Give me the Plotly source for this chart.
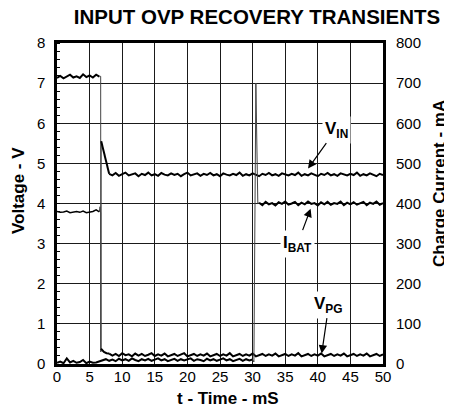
import plotly.graph_objects as go

# ---------------- data ----------------
# sample grids (ms)
t_head = [i * 0.5 for i in range(14)]              # 0 .. 6.5
t_tail = [8.0 + i * 0.5 for i in range(85)]        # 8 .. 50
t_ibat_head = [i * 0.5 for i in range(61)]         # 0 .. 30
t_ibat_tail = [31.0 + i * 0.5 for i in range(39)]  # 31 .. 50

# V_IN (V)
vin_head = [7.13, 7.18, 7.12, 7.16, 7.21, 7.14, 7.17, 7.13, 7.22, 7.15, 7.19, 7.14, 7.21, 7.16]
vin_drop_t = [6.5, 6.7, 6.72, 6.78]
vin_drop_v = [7.16, 7.17, 0.30, 5.55]
vin_ramp_t = [6.78, 7.9, 8.0]
vin_ramp_v = [5.55, 4.76, 4.74]
vin_tail = [4.74, 4.70, 4.76, 4.69, 4.73, 4.77, 4.70, 4.72, 4.75, 4.68, 4.74, 4.71, 4.77, 4.70, 4.73, 4.69, 4.76, 4.72, 4.70, 4.75,
            4.71, 4.74, 4.68, 4.73, 4.77, 4.70, 4.72, 4.75, 4.69, 4.74, 4.71, 4.76, 4.70, 4.73, 4.68, 4.75, 4.72, 4.70, 4.74, 4.71,
            4.77, 4.69, 4.73, 4.70, 4.75, 4.72, 4.68, 4.74, 4.71, 4.76, 4.70, 4.73, 4.69, 4.75, 4.72, 4.70, 4.74, 4.71, 4.77, 4.69,
            4.73, 4.70, 4.75, 4.72, 4.68, 4.74, 4.71, 4.76, 4.70, 4.73, 4.69, 4.75, 4.72, 4.70, 4.74, 4.71, 4.77, 4.69, 4.73, 4.70,
            4.75, 4.72, 4.68, 4.74, 4.71]

# V_PG (V)
vpg_head = [3.80, 3.78, 3.79, 3.81, 3.77, 3.79, 3.80, 3.78, 3.81, 3.77, 3.79, 3.80, 3.84, 3.79]
vpg_drop_t = [6.5, 6.6, 6.7, 6.75]
vpg_drop_v = [3.79, 3.92, 3.76, 0.38]
vpg_mid_t = [6.75, 7.2, 7.6, 8.0]
vpg_mid_v = [0.38, 0.30, 0.27, 0.26]
vpg_tail = [0.26, 0.21, 0.25, 0.20, 0.27, 0.22, 0.24, 0.19, 0.26, 0.21, 0.25, 0.20, 0.23, 0.27, 0.20, 0.24, 0.21, 0.26, 0.19, 0.23,
            0.25, 0.20, 0.24, 0.27, 0.19, 0.22, 0.25, 0.20, 0.24, 0.21, 0.26, 0.19, 0.23, 0.25, 0.20, 0.24, 0.21, 0.27, 0.19, 0.23,
            0.25, 0.20, 0.24, 0.21, 0.26, 0.19, 0.23, 0.25, 0.20, 0.24, 0.21, 0.26, 0.19, 0.22, 0.25, 0.20, 0.24, 0.21, 0.27, 0.19,
            0.23, 0.25, 0.20, 0.24, 0.21, 0.26, 0.19, 0.23, 0.25, 0.20, 0.24, 0.21, 0.26, 0.19, 0.22, 0.25, 0.20, 0.24, 0.21, 0.26,
            0.19, 0.23, 0.25, 0.20, 0.24]

# I_BAT (mA)
ibat_head = [3, 6, 2, 14, 4, 8, 3, 5, 10, 2, 6, 3, 4, 7, 9, 12, 8, 11, 7, 13,
             9, 12, 8, 14, 10, 7, 12, 9, 13, 8, 11, 14, 9, 12, 7, 10, 13, 8, 12, 9,
             11, 14, 8, 12, 10, 7, 13, 9, 12, 8, 11, 14, 9, 12, 7, 10, 13, 8, 12, 9,
             11]
ibat_step_t = [30.0, 30.2, 30.5, 30.8, 31.0]
ibat_step_v = [11, 5, 700, 400, 402]
ibat_tail = [402, 396, 404, 398, 401, 395, 403, 399, 405, 397, 400, 404, 396, 402, 398, 405, 399, 401, 395, 403,
             398, 404, 397, 401, 399, 405, 396, 402, 398, 403, 397, 401, 404, 396, 402, 399, 405, 397, 401]

x_ticks = [0, 5, 10, 15, 20, 25, 30, 35, 40, 45, 50]
y_ticks = [0, 1, 2, 3, 4, 5, 6, 7, 8]
y2_ticks = [0, 100, 200, 300, 400, 500, 600, 700, 800]

# ---------------- figure ----------------
FONT = "Arial, 'Liberation Sans', sans-serif"
OFF = 8                      # page body margin of the browser
W, H = 452, 411
PW, PH = 326, 321
L, T = 57 - OFF, 43 - OFF
R = W - L - PW
B = H - T - PH


def px(xs):  # screenshot x -> paper x
    return (xs - OFF - L) / PW


def py(ys):  # screenshot y -> paper y
    return (H - B - (ys - OFF)) / PH


thick = dict(color="black", width=2.0)
thin = dict(color="#444444", width=1.0)

fig = go.Figure()
# V_IN
fig.add_trace(go.Scatter(x=t_head, y=vin_head, mode="lines", line=thick))
fig.add_trace(go.Scatter(x=vin_drop_t, y=vin_drop_v, mode="lines", line=thin))
fig.add_trace(go.Scatter(x=vin_ramp_t, y=vin_ramp_v, mode="lines", line=thick))
fig.add_trace(go.Scatter(x=t_tail, y=vin_tail, mode="lines", line=thick))
# V_PG
fig.add_trace(go.Scatter(x=t_head, y=vpg_head, mode="lines", line=dict(color="black", width=1.5)))
fig.add_trace(go.Scatter(x=vpg_drop_t, y=vpg_drop_v, mode="lines", line=thin))
fig.add_trace(go.Scatter(x=vpg_mid_t, y=vpg_mid_v, mode="lines", line=thick))
fig.add_trace(go.Scatter(x=t_tail, y=vpg_tail, mode="lines", line=thick))
# I_BAT (right axis)
fig.add_trace(go.Scatter(x=t_ibat_head, y=ibat_head, mode="lines", line=thick, yaxis="y2"))
fig.add_trace(go.Scatter(x=ibat_step_t, y=ibat_step_v, mode="lines", line=thin, yaxis="y2"))
fig.add_trace(go.Scatter(x=t_ibat_tail, y=ibat_tail, mode="lines", line=thick, yaxis="y2"))

fig.update_layout(
    width=W, height=H,
    margin=dict(l=L, r=R, t=T, b=B, autoexpand=False),
    paper_bgcolor="white", plot_bgcolor="white",
    showlegend=False,
    font=dict(family=FONT, color="black", size=15),
    title=dict(text="INPUT OVP RECOVERY TRANSIENTS", x=(257 - OFF) / W, xanchor="center",
               y=1 - (17 - OFF) / H, yanchor="middle",
               font=dict(size=20.5, weight="bold", family=FONT, color="black")),
    xaxis=dict(range=[0, 50], tickvals=x_ticks, ticktext=[str(v) for v in x_ticks],
               showgrid=True, gridcolor="#1a1a1a", gridwidth=1.2,
               showline=True, linecolor="black", linewidth=2.5, mirror=True,
               ticks="", zeroline=False, ticklabelstandoff=-3,
               tickfont=dict(size=15)),
    yaxis=dict(range=[0, 8], tickvals=y_ticks, ticktext=[str(v) for v in y_ticks],
               showgrid=True, gridcolor="#1a1a1a", gridwidth=1.2,
               showline=True, linecolor="black", linewidth=2.5, mirror=True,
               ticks="", zeroline=False, ticklabelstandoff=6,
               minor=dict(ticks="inside", ticklen=3, tickcolor="black", dtick=0.2, showgrid=False),
               tickfont=dict(size=15)),
    yaxis2=dict(range=[0, 800], tickvals=y2_ticks, ticktext=[str(v) for v in y2_ticks],
                overlaying="y", side="right", showgrid=False, zeroline=False,
                showline=False, ticks="", ticklabelstandoff=12,
                tickfont=dict(size=15)),
)

ann = []
# axis titles
ann.append(dict(text="t - Time - mS", x=px(228), y=py(398), xref="paper", yref="paper",
                xanchor="center", yanchor="middle",
                showarrow=False, font=dict(size=17, weight="bold")))
ann.append(dict(text="Voltage - V", x=px(18), y=py(191), xref="paper", yref="paper",
                xanchor="center", yanchor="middle",
                showarrow=False, textangle=-90, font=dict(size=17, weight="bold")))
ann.append(dict(text="Charge Current - mA", x=px(439), y=py(183), xref="paper", yref="paper",
                xanchor="center", yanchor="middle",
                showarrow=False, textangle=-90, font=dict(size=17, weight="bold")))

# trace labels with arrows
lab_font = dict(size=17, weight="bold")
arrow = dict(showarrow=True, arrowhead=2, arrowsize=1.4, arrowwidth=1.2, arrowcolor="black",
             bgcolor="white", font=lab_font, borderpad=2, xref="x", yref="y", axref="x", ayref="y")
ann.append(dict(text="V<sub>IN</sub>", x=38.5, y=4.87, ax=42.8, ay=5.84, **arrow))
ann.append(dict(text="I<sub>BAT</sub>", x=38.9, y=3.87, ax=36.9, ay=3.0, **arrow))
ann.append(dict(text="V<sub>PG</sub>", x=40.6, y=0.26, ax=41.7, ay=1.48, **arrow))
fig.update_layout(annotations=ann)

fig.write_html("out.html")
